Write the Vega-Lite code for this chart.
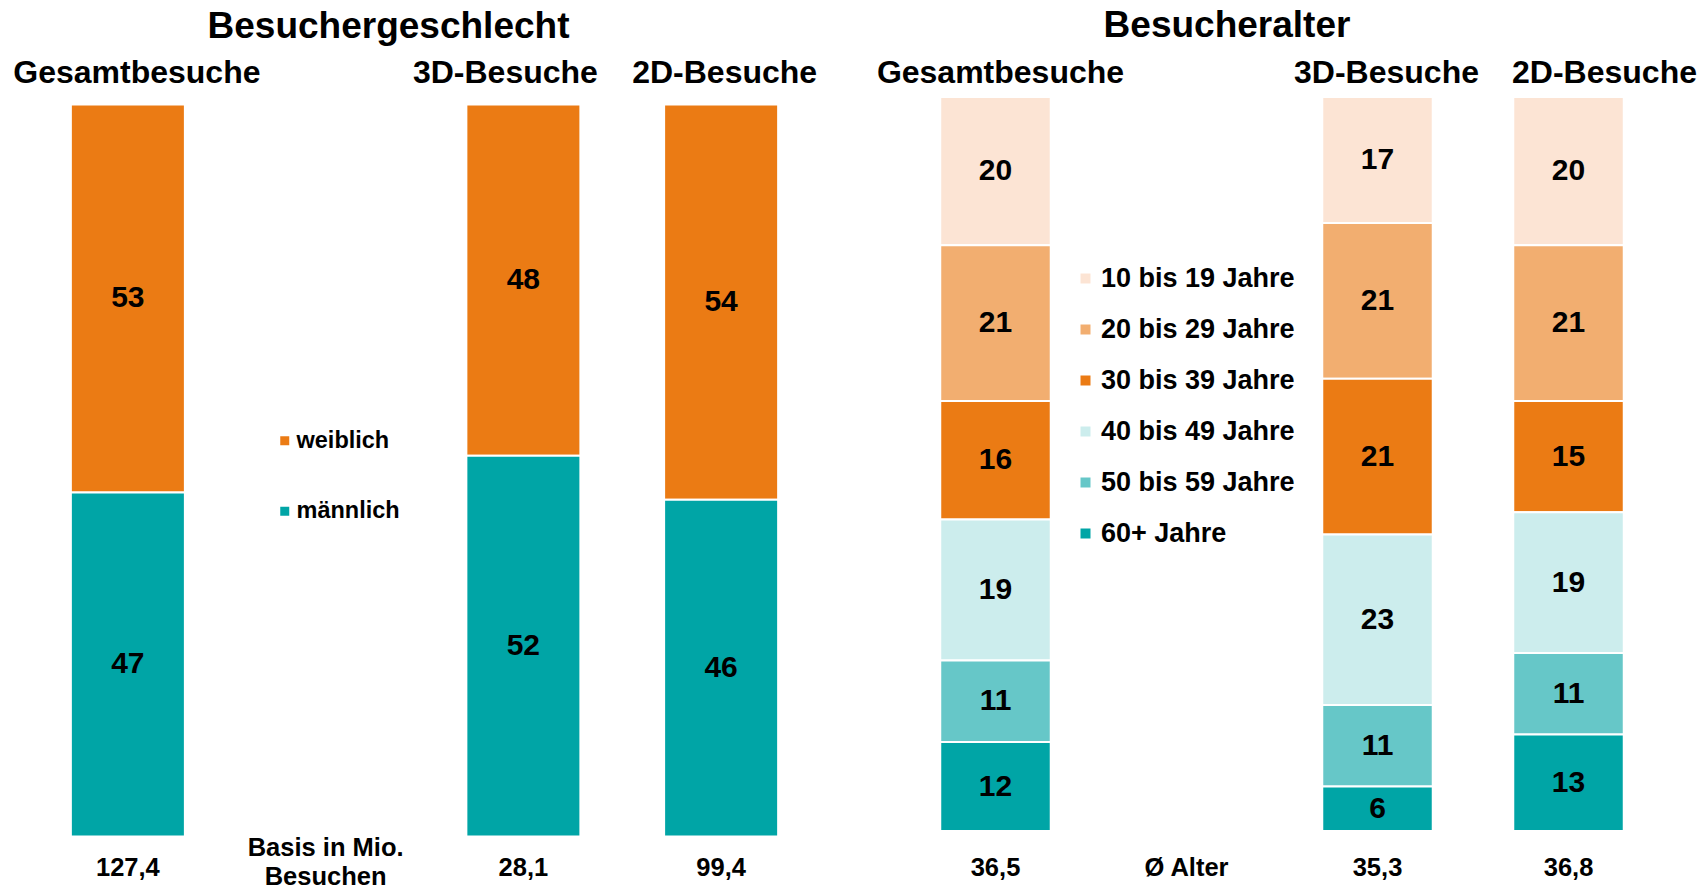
{
  "$schema": "https://vega.github.io/schema/vega-lite/v6.json",
  "background": "white",
  "padding": {"left": 12, "top": 7, "right": 0, "bottom": 0},
  "config": {
    "view": {"stroke": null},
    "font": "Liberation Sans",
    "title": {"font": "Liberation Sans", "fontSize": 37, "fontWeight": "bold", "color": "black"}
  },
  "datasets": {
    "geschlecht": [
      {"Gruppe": "Gesamtbesuche", "Kategorie": "weiblich", "Wert": 53},
      {"Gruppe": "Gesamtbesuche", "Kategorie": "männlich", "Wert": 47},
      {"Gruppe": "3D-Besuche", "Kategorie": "weiblich", "Wert": 48},
      {"Gruppe": "3D-Besuche", "Kategorie": "männlich", "Wert": 52},
      {"Gruppe": "2D-Besuche", "Kategorie": "weiblich", "Wert": 54},
      {"Gruppe": "2D-Besuche", "Kategorie": "männlich", "Wert": 46}
    ],
    "geschlechtBasis": [
      {"Gruppe": "Gesamtbesuche", "Basis": "127,4"},
      {"Gruppe": " ", "Basis": "Basis in Mio.\nBesuchen"},
      {"Gruppe": "3D-Besuche", "Basis": "28,1"},
      {"Gruppe": "2D-Besuche", "Basis": "99,4"}
    ],
    "alter": [
      {"Gruppe": "Gesamtbesuche", "Kategorie": "10 bis 19 Jahre", "Wert": 20},
      {"Gruppe": "Gesamtbesuche", "Kategorie": "20 bis 29 Jahre", "Wert": 21},
      {"Gruppe": "Gesamtbesuche", "Kategorie": "30 bis 39 Jahre", "Wert": 16},
      {"Gruppe": "Gesamtbesuche", "Kategorie": "40 bis 49 Jahre", "Wert": 19},
      {"Gruppe": "Gesamtbesuche", "Kategorie": "50 bis 59 Jahre", "Wert": 11},
      {"Gruppe": "Gesamtbesuche", "Kategorie": "60+ Jahre", "Wert": 12},
      {"Gruppe": "3D-Besuche", "Kategorie": "10 bis 19 Jahre", "Wert": 17},
      {"Gruppe": "3D-Besuche", "Kategorie": "20 bis 29 Jahre", "Wert": 21},
      {"Gruppe": "3D-Besuche", "Kategorie": "30 bis 39 Jahre", "Wert": 21},
      {"Gruppe": "3D-Besuche", "Kategorie": "40 bis 49 Jahre", "Wert": 23},
      {"Gruppe": "3D-Besuche", "Kategorie": "50 bis 59 Jahre", "Wert": 11},
      {"Gruppe": "3D-Besuche", "Kategorie": "60+ Jahre", "Wert": 6},
      {"Gruppe": "2D-Besuche", "Kategorie": "10 bis 19 Jahre", "Wert": 20},
      {"Gruppe": "2D-Besuche", "Kategorie": "20 bis 29 Jahre", "Wert": 21},
      {"Gruppe": "2D-Besuche", "Kategorie": "30 bis 39 Jahre", "Wert": 15},
      {"Gruppe": "2D-Besuche", "Kategorie": "40 bis 49 Jahre", "Wert": 19},
      {"Gruppe": "2D-Besuche", "Kategorie": "50 bis 59 Jahre", "Wert": 11},
      {"Gruppe": "2D-Besuche", "Kategorie": "60+ Jahre", "Wert": 13}
    ],
    "alterBasis": [
      {"Gruppe": "Gesamtbesuche", "Basis": "36,5"},
      {"Gruppe": " ", "Basis": "Ø Alter"},
      {"Gruppe": "3D-Besuche", "Basis": "35,3"},
      {"Gruppe": "2D-Besuche", "Basis": "36,8"}
    ]
  },
  "resolve": {"scale": {"color": "independent", "x": "independent", "y": "independent"}, "legend": {"color": "independent"}},
  "spacing": 56,
  "hconcat": [
    {
      "width": 791,
      "height": 739.5,
      "title": {"text": "Besuchergeschlecht", "anchor": "middle", "frame": "group", "dx": -36, "offset": 11},
      "layer": [
        {
          "data": {"name": "geschlecht"},
          "mark": {"type": "bar", "stroke": "white", "strokeWidth": 2},
          "encoding": {
            "x": {"field": "Gruppe", "type": "nominal", "sort": ["Gesamtbesuche", " ", "3D-Besuche", "2D-Besuche"],
                  "scale": {"domain": ["Gesamtbesuche", " ", "3D-Besuche", "2D-Besuche"], "paddingInner": 0.4234, "paddingOuter": 0.2117},
                  "axis": {"orient": "top", "title": null, "domain": false, "ticks": false, "tickSize": 0, "labelAngle": 0, "labelLimit": 400,
                           "labelFont": "Liberation Sans", "labelFontSize": 32, "labelFontWeight": "bold", "labelColor": "black",
                           "labelBaseline": "alphabetic", "labelPadding": 14.5,
                           "labelOffset": {"condition": [{"test": "datum.value === 'Gesamtbesuche'", "value": 9}, {"test": "datum.value === '3D-Besuche'", "value": -18}], "value": 3.5}}},
            "y": {"field": "Wert", "type": "quantitative", "stack": "normalize", "scale": {"domain": [0, 1], "range": [739.5, 7.5]}, "axis": null},
            "color": {"field": "Kategorie", "type": "nominal",
                      "scale": {"domain": ["weiblich", "männlich"], "range": ["#EB7B14", "#00A5A6"]},
                      "legend": {"title": null, "orient": "none", "legendX": 244, "legendY": 332, "padding": 0,
                                 "symbolType": "square", "symbolSize": 81, "symbolStrokeWidth": 0, "symbolOpacity": 1,
                                 "labelFont": "Liberation Sans", "labelFontSize": 23.5, "labelFontWeight": "bold", "labelColor": "black",
                                 "labelOffset": 0, "labelLimit": 400, "rowPadding": 45.5}},
            "order": {"field": "Kategorie", "sort": "ascending"}
          }
        },
        {
          "data": {"name": "geschlecht"},
          "transform": [
            {"stack": "Wert", "groupby": ["Gruppe"], "sort": [{"field": "Kategorie", "order": "ascending"}], "offset": "normalize", "as": ["y0", "y1"]},
            {"fold": ["y0", "y1"], "as": ["Rand", "Pos"]},
            {"aggregate": [{"op": "mean", "field": "Pos", "as": "Mitte"}], "groupby": ["Gruppe", "Kategorie", "Wert"]}
          ],
          "mark": {"type": "text", "font": "Liberation Sans", "fontSize": 30, "fontWeight": "bold", "color": "black", "baseline": "middle", "align": "center"},
          "encoding": {
            "x": {"field": "Gruppe", "type": "nominal"},
            "y": {"field": "Mitte", "type": "quantitative"},
            "text": {"field": "Wert", "type": "quantitative"}
          }
        },
        {
          "data": {"name": "geschlechtBasis"},
          "transform": [{"filter": "datum.Gruppe !== ' '"}],
          "mark": {"type": "text", "font": "Liberation Sans", "fontSize": 25.5, "fontWeight": "bold", "color": "black", "baseline": "middle", "align": "center", "dy": 31.5},
          "encoding": {
            "x": {"field": "Gruppe", "type": "nominal"},
            "y": {"datum": 0, "type": "quantitative"},
            "text": {"field": "Basis", "type": "nominal"}
          }
        },
        {
          "data": {"name": "geschlechtBasis"},
          "transform": [{"filter": "datum.Gruppe === ' '"}],
          "mark": {"type": "text", "font": "Liberation Sans", "fontSize": 25.5, "fontWeight": "bold", "color": "black", "baseline": "middle", "align": "center", "dy": 11, "lineBreak": "\n", "lineHeight": 29},
          "encoding": {
            "x": {"field": "Gruppe", "type": "nominal"},
            "y": {"datum": 0, "type": "quantitative"},
            "text": {"field": "Basis", "type": "nominal"}
          }
        }
      ]
    },
    {
      "width": 764,
      "height": 734,
      "title": {"text": "Besucheralter", "anchor": "middle", "frame": "group", "dx": -55, "offset": 11},
      "layer": [
        {
          "data": {"name": "alter"},
          "mark": {"type": "bar", "stroke": "white", "strokeWidth": 2},
          "encoding": {
            "x": {"field": "Gruppe", "type": "nominal", "sort": ["Gesamtbesuche", " ", "3D-Besuche", "2D-Besuche"],
                  "scale": {"domain": ["Gesamtbesuche", " ", "3D-Besuche", "2D-Besuche"], "paddingInner": 0.4215, "paddingOuter": 0.2107},
                  "axis": {"orient": "top", "title": null, "domain": false, "ticks": false, "tickSize": 0, "labelAngle": 0, "labelLimit": 400,
                           "labelFont": "Liberation Sans", "labelFontSize": 32, "labelFontWeight": "bold", "labelColor": "black",
                           "labelBaseline": "alphabetic", "labelPadding": 15,
                           "labelOffset": {"condition": [{"test": "datum.value === 'Gesamtbesuche'", "value": 5}, {"test": "datum.value === '3D-Besuche'", "value": 9}], "value": 36}}},
            "y": {"field": "Wert", "type": "quantitative", "stack": "normalize", "scale": {"domain": [0, 1]}, "axis": null},
            "color": {"field": "Kategorie", "type": "nominal",
                      "scale": {"domain": ["10 bis 19 Jahre", "20 bis 29 Jahre", "30 bis 39 Jahre", "40 bis 49 Jahre", "50 bis 59 Jahre", "60+ Jahre"],
                                "range": ["#FCE4D4", "#F2AE70", "#EB7B14", "#CCEDED", "#66C7C8", "#00A5A6"]},
                      "legend": {"title": null, "orient": "none", "legendX": 172, "legendY": 168, "padding": 0,
                                 "symbolType": "square", "symbolSize": 100, "symbolStrokeWidth": 0, "symbolOpacity": 1,
                                 "labelFont": "Liberation Sans", "labelFontSize": 27, "labelFontWeight": "bold", "labelColor": "black",
                                 "labelOffset": 2, "labelLimit": 400, "rowPadding": 23}},
            "order": {"field": "Kategorie", "sort": "descending"}
          }
        },
        {
          "data": {"name": "alter"},
          "transform": [
            {"stack": "Wert", "groupby": ["Gruppe"], "sort": [{"field": "Kategorie", "order": "descending"}], "offset": "normalize", "as": ["y0", "y1"]},
            {"fold": ["y0", "y1"], "as": ["Rand", "Pos"]},
            {"aggregate": [{"op": "mean", "field": "Pos", "as": "Mitte"}], "groupby": ["Gruppe", "Kategorie", "Wert"]}
          ],
          "mark": {"type": "text", "font": "Liberation Sans", "fontSize": 30, "fontWeight": "bold", "color": "black", "baseline": "middle", "align": "center"},
          "encoding": {
            "x": {"field": "Gruppe", "type": "nominal"},
            "y": {"field": "Mitte", "type": "quantitative"},
            "text": {"field": "Wert", "type": "quantitative"}
          }
        },
        {
          "data": {"name": "alterBasis"},
          "mark": {"type": "text", "font": "Liberation Sans", "fontSize": 25.5, "fontWeight": "bold", "color": "black", "baseline": "middle", "align": "center", "dy": 37},
          "encoding": {
            "x": {"field": "Gruppe", "type": "nominal"},
            "y": {"datum": 0, "type": "quantitative"},
            "text": {"field": "Basis", "type": "nominal"}
          }
        }
      ]
    }
  ]
}
